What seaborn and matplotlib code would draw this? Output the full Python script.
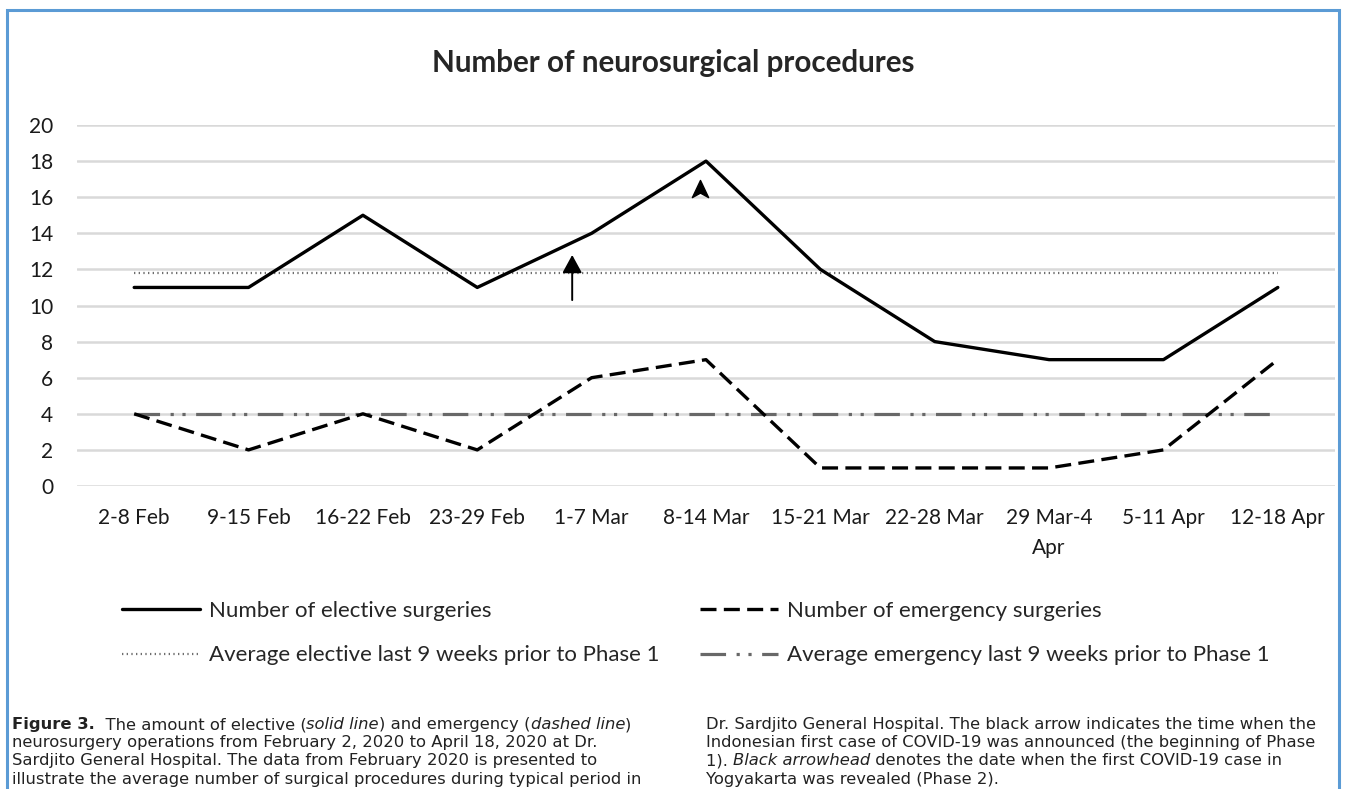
import numpy as np
import pandas as pd
import matplotlib.pyplot as plt
import seaborn as sns
from matplotlib.path import Path
from matplotlib.patches import Rectangle
from matplotlib.lines import Line2D

# data
weeks = ["2-8 Feb", "9-15 Feb", "16-22 Feb", "23-29 Feb", "1-7 Mar", "8-14 Mar",
         "15-21 Mar", "22-28 Mar", "29 Mar-4\nApr", "5-11 Apr", "12-18 Apr"]
elective = [11, 11, 15, 11, 14, 18, 12, 8, 7, 7, 11]
emergency = [4, 2, 4, 2, 6, 7, 1, 1, 1, 2, 7]
avg_elective = 11.8
avg_emergency = 4.0

# annotation positions (phase 1 arrow, phase 2 arrowhead)
phase1_x, phase1_y0, phase1_y1 = 3.83, 10.3, 12.8
phase2_x, phase2_y = 4.95, 16.45

title = "Number of neurosurgical procedures"
labels = ["Number of elective surgeries", "Average elective last 9 weeks prior to Phase 1",
          "Number of emergency surgeries", "Average emergency last 9 weeks prior to Phase 1"]

sns.set_theme(style="white")
plt.rcParams['font.family'] = ['Lato', 'DejaVu Sans']

W, H = 1346, 789
fig = plt.figure(figsize=(W / 100, H / 100), dpi=100)
ax = fig.add_axes([77 / W, 1 - 486 / H, (1335 - 77) / W, (486 - 125) / H])

df = pd.DataFrame({"week": weeks, "elective": elective, "emergency": emergency,
                   "avg_el": [avg_elective] * len(weeks), "avg_em": [avg_emergency] * len(weeks)})

st_el = dict(color="black", lw=2.4, linestyle="-")
st_em = dict(color="black", lw=2.4, linestyle=(0, (4.8, 2.2)))
st_avg_el = dict(color="#6e6e6e", lw=1.6, linestyle=(0, (0.6, 1.5)))
st_avg_em = dict(color="#686868", lw=2.3, linestyle=(0, (8, 3.3, 1, 2.7, 1, 3.3)))

sns.lineplot(data=df, x="week", y="avg_el", ax=ax, sort=False, **st_avg_el)
sns.lineplot(data=df, x="week", y="avg_em", ax=ax, sort=False, **st_avg_em)
sns.lineplot(data=df, x="week", y="elective", ax=ax, sort=False, **st_el)
sns.lineplot(data=df, x="week", y="emergency", ax=ax, sort=False, **st_em)

ax.set_xlim(-0.5, len(weeks) - 0.5)
ax.set_ylim(0, 20)
ax.set_yticks(range(0, 21, 2))
ax.yaxis.grid(True, color="#d9d9d9", lw=1.8)
ax.xaxis.grid(False)
ax.set_axisbelow(True)
for s in ax.spines.values():
    s.set_visible(False)
ax.set_xlabel("")
ax.set_ylabel("")
ax.tick_params(axis="y", length=0, labelsize=15, pad=17, labelcolor="#1a1a1a")
ax.tick_params(axis="x", length=0, labelsize=15, pad=16, labelcolor="#1a1a1a")

# phase 1 arrow
ax.annotate("", xy=(phase1_x, phase1_y1), xytext=(phase1_x, phase1_y0),
            arrowprops=dict(arrowstyle="-|>,head_length=0.55,head_width=0.3",
                            color="black", lw=1.4, mutation_scale=20, shrinkA=0, shrinkB=0))
# phase 2 arrowhead
stealth = Path([(0, 1), (0.9, -0.9), (0, -0.4), (-0.9, -0.9), (0, 1)],
               [Path.MOVETO, Path.LINETO, Path.LINETO, Path.LINETO, Path.CLOSEPOLY])
ax.plot([phase2_x], [phase2_y], marker=stealth, ms=13, color="black", linestyle="none")

fig.text(673 / W, 1 - 63 / H, title, ha="center", va="center", fontsize=21.3, fontweight="bold")

# legend, two columns placed by hand
h = [Line2D([], [], **st_el), Line2D([], [], **st_avg_el),
     Line2D([], [], **st_em), Line2D([], [], **st_avg_em)]
for i, x0 in enumerate([122, 700]):
    fig.legend(h[2 * i:2 * i + 2], labels[2 * i:2 * i + 2], loc="upper left",
               bbox_to_anchor=(x0 / W, 1 - 601 / H), frameon=False, fontsize=16,
               handlelength=3.5, handletextpad=0.4, labelspacing=1.1,
               borderpad=0, borderaxespad=0)

# caption in two columns, with bold / italic runs
cap_font = ['DejaVu Sans']
cap_size = 11.8
left_col = [
    [("Figure 3.", {"fontweight": "bold"}), ("  The amount of elective (", {}),
     ("solid line", {"style": "italic"}), (") and emergency (", {}),
     ("dashed line", {"style": "italic"}), (")", {})],
    [("neurosurgery operations from February 2, 2020 to April 18, 2020 at Dr.", {})],
    [("Sardjito General Hospital. The data from February 2020 is presented to", {})],
    [("illustrate the average number of surgical procedures during typical period in", {})],
]
right_col = [
    [("Dr. Sardjito General Hospital. The black arrow indicates the time when the", {})],
    [("Indonesian first case of COVID-19 was announced (the beginning of Phase", {})],
    [("1). ", {}), ("Black arrowhead", {"style": "italic"}),
     (" denotes the date when the first COVID-19 case in", {})],
    [("Yogyakarta was revealed (Phase 2).", {})],
]


def caption_line(x, y, parts):
    s, kw = parts[0]
    prev = fig.text(x / W, 1 - y / H, s, va="bottom", ha="left", family=cap_font,
                    fontsize=cap_size, color="#222222", **kw)
    for s, kw in parts[1:]:
        prev = ax.annotate(s, xy=(1, 0), xycoords=prev, va="bottom", ha="left",
                           family=cap_font, fontsize=cap_size, color="#222222",
                           annotation_clip=False, **kw)


for i, parts in enumerate(left_col):
    caption_line(12, 732 + 18.2 * i, parts)
for i, parts in enumerate(right_col):
    caption_line(706, 732 + 18.2 * i, parts)

# blue frame
fig.add_artist(Rectangle((7 / W, -0.05), (1339 - 7) / W, 1.05 - 10 / H, fill=False,
                         edgecolor="#5b9bd5", lw=2.2, transform=fig.transFigure))

for lbl in ax.get_xticklabels():
    lbl.set_linespacing(1.6)

fig.savefig("out.png", dpi=100)
